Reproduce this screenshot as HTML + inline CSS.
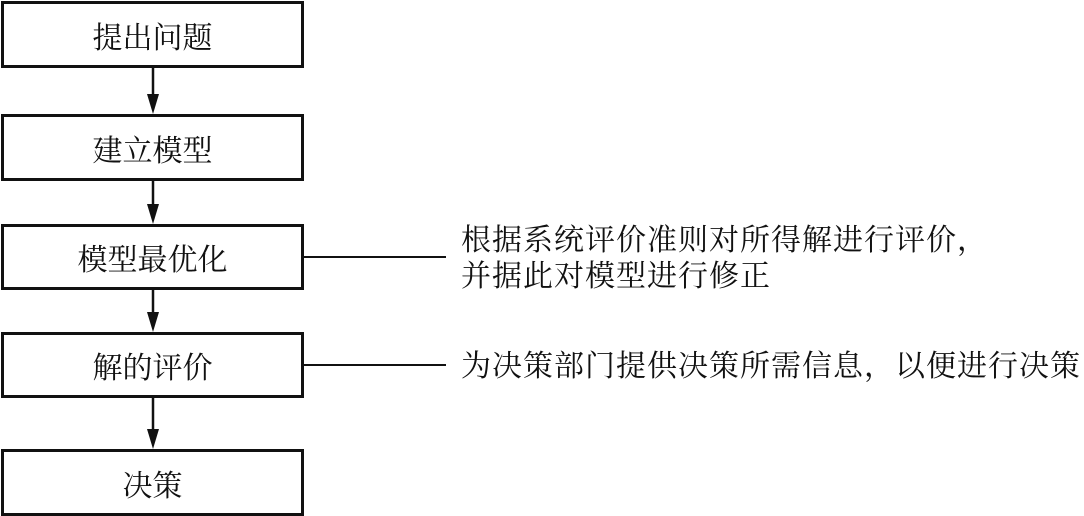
<!DOCTYPE html>
<html><head><meta charset="utf-8"><style>
body{margin:0;width:1084px;height:516px;background:#fff;position:relative;overflow:hidden;font-family:"Noto Serif CJK SC","Liberation Serif",serif;color:#111}
.b{position:absolute;left:1px;width:297px;border:3px solid #111;display:flex;align-items:center;justify-content:center;font-size:30px;box-sizing:content-box}
.t{position:absolute;left:461px;font-size:30px;white-space:nowrap;line-height:36px;letter-spacing:1px}
</style></head><body>
<div class="b" style="top:1px;height:61px">提出问题</div>
<div class="b" style="top:114px;height:61px">建立模型</div>
<div class="b" style="top:224px;height:60px">模型最优化</div>
<div class="b" style="top:332px;height:60px">解的评价</div>
<div class="b" style="top:449px;height:61px">决策</div>
<svg width="1084" height="516" style="position:absolute;left:0;top:0">
<g stroke="#111" stroke-width="2.5" fill="#111">
<line x1="153" y1="67" x2="153" y2="105"/><polygon points="147,94 159,94 153,114" stroke="none"/>
<line x1="153" y1="181" x2="153" y2="215"/><polygon points="147,204 159,204 153,224" stroke="none"/>
<line x1="153" y1="290" x2="153" y2="323"/><polygon points="147,312 159,312 153,332" stroke="none"/>
<line x1="153" y1="398" x2="153" y2="440"/><polygon points="147,429 159,429 153,449" stroke="none"/>
<line x1="304" y1="257" x2="446" y2="257" stroke-width="2"/>
<line x1="304" y1="365" x2="446" y2="365" stroke-width="2"/>
</g></svg>
<div class="t" style="top:219px">根据系统评价准则对所得解进行评价，<br>并据此对模型进行修正</div>
<div class="t" style="top:345px">为决策部门提供决策所需信息，以便进行决策</div>
</body></html>
